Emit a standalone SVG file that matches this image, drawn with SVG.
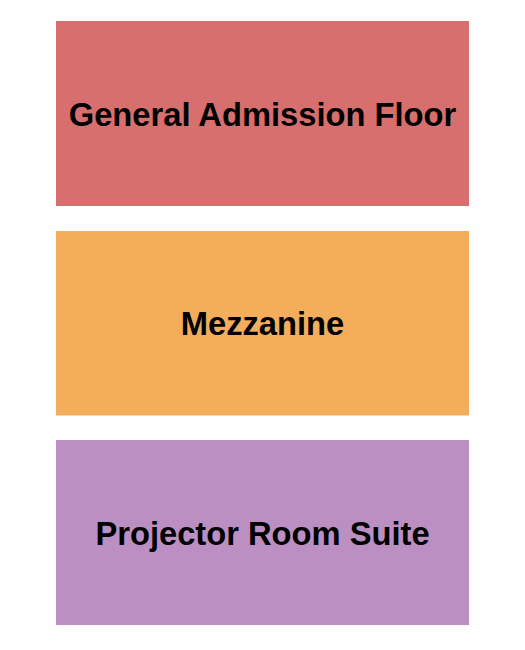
<svg xmlns="http://www.w3.org/2000/svg" width="525" height="650" viewBox="0 0 525 650">
<style>
.lbl{font-family:"Liberation Sans",Arial,sans-serif;font-weight:bold;font-size:32.7px;fill:#000;text-anchor:middle}
</style>
<rect width="525" height="650" fill="#fff"/>
<g id="ga-floor"><rect x="56" y="21" width="413" height="185" fill="#D76F6E"/><text class="lbl" x="262.5" y="125.5">General Admission Floor</text></g>
<g id="mezzanine"><rect x="56" y="231" width="413" height="184.5" fill="#F3AD5B"/><text class="lbl" x="262.5" y="335">Mezzanine</text></g>
<g id="projector-room-suite"><rect x="56" y="440" width="413" height="185" fill="#BC8FC3"/><text class="lbl" x="262.5" y="545">Projector Room Suite</text></g>
<g id="connectors"></g>
</svg>
